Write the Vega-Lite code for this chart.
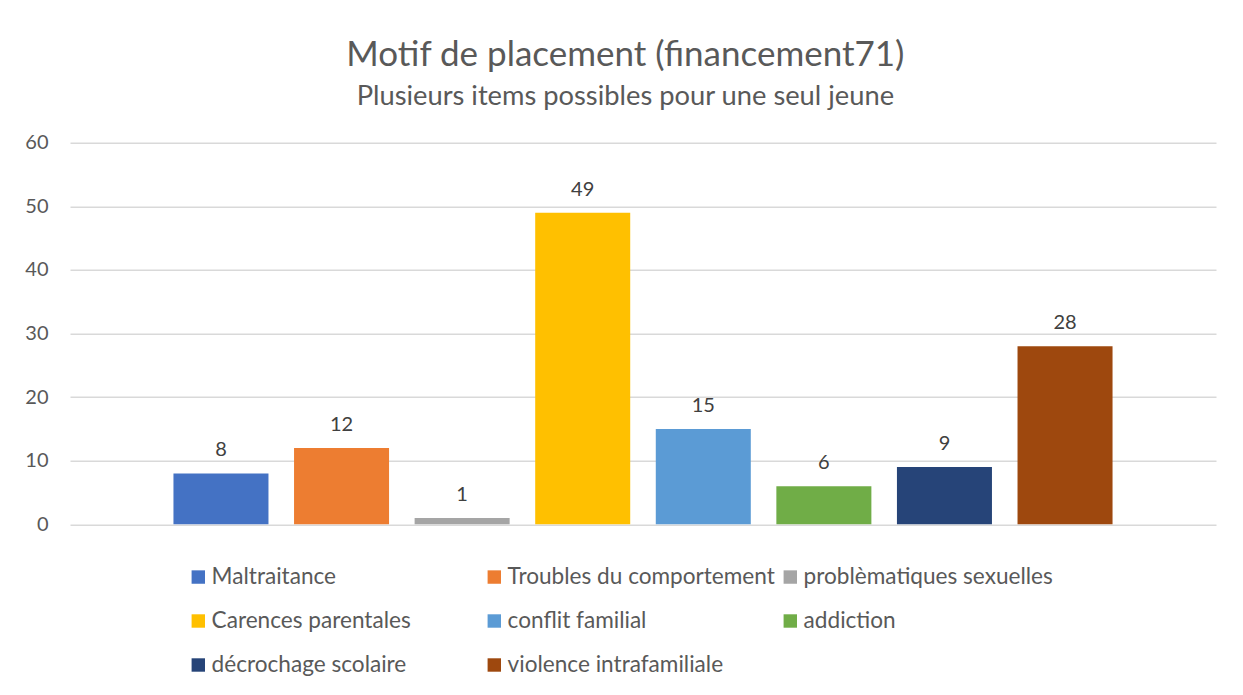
{
  "$schema": "https://vega.github.io/schema/vega-lite/v6.json",
  "width": 1146,
  "height": 381.6,
  "autosize": {"type": "none"},
  "padding": {"left": 70, "top": 142.7, "right": 27, "bottom": 170.7},
  "background": "white",
  "title": {
    "text": "Motif de placement (financement71)",
    "subtitle": "Plusieurs items possibles pour une seul jeune",
    "anchor": "middle",
    "frame": "bounds",
    "dx": 5,
    "font": "Lato",
    "fontSize": 35,
    "fontWeight": "normal",
    "color": "#595959",
    "subtitleFont": "Lato",
    "subtitleFontSize": 27.3,
    "subtitleColor": "#595959",
    "subtitlePadding": 10,
    "offset": 22
  },
  "data": {
    "values": [
      {"motif": "Maltraitance", "n": 8},
      {"motif": "Troubles du comportement", "n": 12},
      {"motif": "problèmatiques sexuelles", "n": 1},
      {"motif": "Carences parentales", "n": 49},
      {"motif": "conflit familial", "n": 15},
      {"motif": "addiction", "n": 6},
      {"motif": "décrochage scolaire", "n": 9},
      {"motif": "violence intrafamiliale", "n": 28}
    ]
  },
  "encoding": {
    "x": {
      "field": "motif",
      "type": "nominal",
      "sort": null,
      "scale": {"paddingInner": 0.212, "paddingOuter": 0.858},
      "axis": null
    },
    "y": {
      "field": "n",
      "type": "quantitative",
      "scale": {"domain": [0, 60]},
      "axis": {
        "values": [0, 10, 20, 30, 40, 50, 60],
        "title": null,
        "domain": false,
        "ticks": false,
        "labelPadding": 22,
        "labelFont": "Lato",
        "labelFontSize": 20,
        "labelColor": "#595959",
        "gridColor": "#D9D9D9",
        "gridWidth": 1.5
      }
    }
  },
  "layer": [
    {
      "mark": {"type": "bar"},
      "encoding": {
        "color": {
          "field": "motif",
          "type": "nominal",
          "sort": null,
          "scale": {
            "domain": ["Maltraitance", "Troubles du comportement", "problèmatiques sexuelles", "Carences parentales", "conflit familial", "addiction", "décrochage scolaire", "violence intrafamiliale"],
            "range": ["#4472C4", "#ED7D31", "#A5A5A5", "#FFC000", "#5B9BD5", "#70AD47", "#264478", "#9E480E"]
          },
          "legend": {
            "title": null,
            "orient": "none",
            "legendX": 117,
            "legendY": 423,
            "direction": "horizontal",
            "columns": 3,
            "gridAlign": "all",
            "columnPadding": 4,
            "rowPadding": 21,
            "symbolType": "square",
            "symbolSize": 180,
            "symbolStrokeWidth": 0,
            "labelFont": "Lato",
            "labelFontSize": 22.6,
            "labelColor": "#595959",
            "labelOffset": 2,
            "labelLimit": 400
          }
        }
      }
    },
    {
      "mark": {"type": "text", "baseline": "alphabetic", "dy": -17, "font": "Lato", "fontSize": 20, "color": "#404040"},
      "encoding": {"text": {"field": "n", "type": "quantitative"}}
    }
  ],
  "config": {"view": {"stroke": null}}
}
